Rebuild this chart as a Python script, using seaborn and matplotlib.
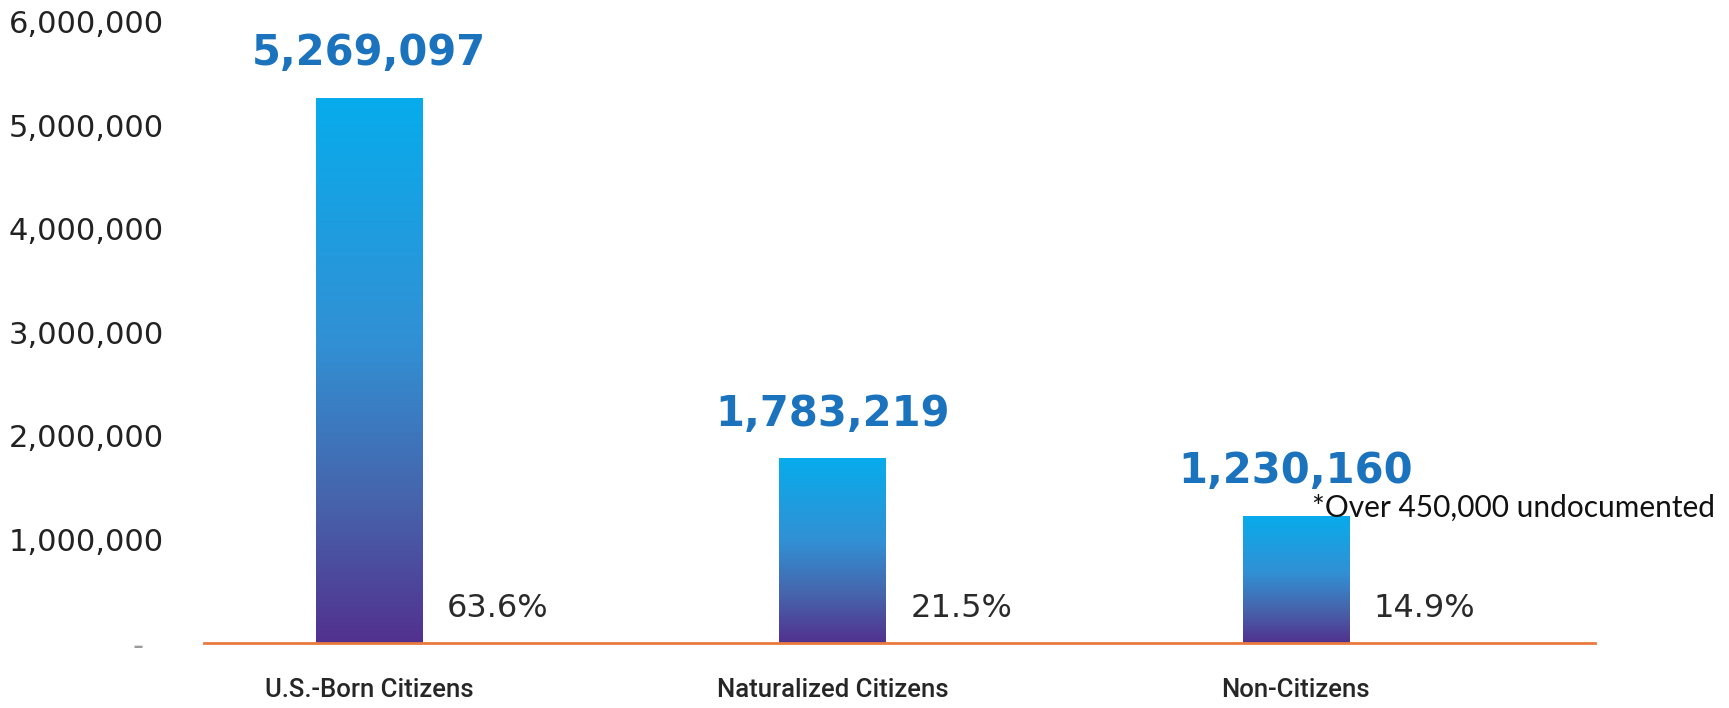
import numpy as np
import pandas as pd
import matplotlib
matplotlib.use("Agg")
import matplotlib.pyplot as plt
from matplotlib.colors import LinearSegmentedColormap
from matplotlib.ticker import FuncFormatter
import seaborn as sns

# Data
categories = ["U.S.-Born Citizens", "Naturalized Citizens", "Non-Citizens"]
population = [5269097, 1783219, 1230160]
share_labels = ["63.6%", "21.5%", "14.9%"]
y_ticks = [0, 1000000, 2000000, 3000000, 4000000, 5000000, 6000000]
footnote = "*Over 450,000 undocumented"

df = pd.DataFrame({"group": categories, "population": population})

sns.set_style("white")
plt.rcParams["font.family"] = ["DejaVu Sans"]

fig = plt.figure(figsize=(17.29, 7.08), dpi=100)
ax = fig.add_axes([0.118, 0.0918, 0.8045, 0.8772])

sns.barplot(data=df, x="group", y="population", width=0.229,
            color="#2d7fc8", ax=ax, zorder=2)

ax.set_xlim(-0.356, 2.646)
ax.set_ylim(0, 6000000)

# Vertical gradient fill clipped to each bar
grad_cmap = LinearSegmentedColormap.from_list(
    "bar_grad",
    [(0.0, "#07acec"), (0.45, "#3290d4"), (0.75, "#4762aa"), (1.0, "#52318f")],
)
gradient = np.linspace(0, 1, 256).reshape(-1, 1)
for patch in ax.patches:
    x0, y0 = patch.get_x(), patch.get_y()
    w, h = patch.get_width(), patch.get_height()
    im = ax.imshow(gradient, cmap=grad_cmap, aspect="auto",
                   extent=[x0, x0 + w, y0, y0 + h], origin="upper",
                   zorder=2.5, interpolation="bicubic")
    im.set_clip_path(patch)
    patch.set_facecolor("none")
    patch.set_edgecolor("none")

ax.set_xlim(-0.356, 2.646)
ax.set_ylim(0, 6000000)

# Value labels above bars and share labels beside them
for i, (patch, val, share) in enumerate(zip(ax.patches, population, share_labels)):
    cx = patch.get_x() + patch.get_width() / 2
    ax.annotate(f"{val:,}", xy=(cx, val), xytext=(0, 32),
                textcoords="offset points", ha="center", va="center",
                fontsize=30, fontweight="bold", color="#1b72bd")
    ax.annotate(share, xy=(patch.get_x() + patch.get_width(), 0),
                xytext=(18, 25), textcoords="offset points",
                ha="left", va="center", fontsize=23, color="#2a2a2a")

ax.text(2.035, 1310000, footnote, ha="left", va="center",
        fontsize=21.5, color="#111111", family=["Lato", "DejaVu Sans"], zorder=4)

# Axes styling
for side in ["top", "right", "left"]:
    ax.spines[side].set_visible(False)
ax.spines["bottom"].set_color("#e8793f")
ax.spines["bottom"].set_linewidth(2)
ax.spines["bottom"].set_zorder(3)

ax.set_yticks(y_ticks)
ax.yaxis.set_major_formatter(FuncFormatter(lambda v, p: "-  " if v == 0 else f"{int(v):,}"))
ax.tick_params(axis="y", length=0, pad=29, labelsize=22, labelcolor="#222222")
ax.tick_params(axis="x", length=0, pad=25, labelsize=18.5, labelcolor="#262626")
for lbl in ax.get_xticklabels():
    lbl.set_family(["Roboto", "DejaVu Sans"])
    lbl.set_fontweight("medium")
ax.get_yticklabels()[0].set_color("#9a9a9a")

ax.set_xlabel("")
ax.set_ylabel("")
ax.grid(False)

fig.savefig("out.png", dpi=100, facecolor="white")
